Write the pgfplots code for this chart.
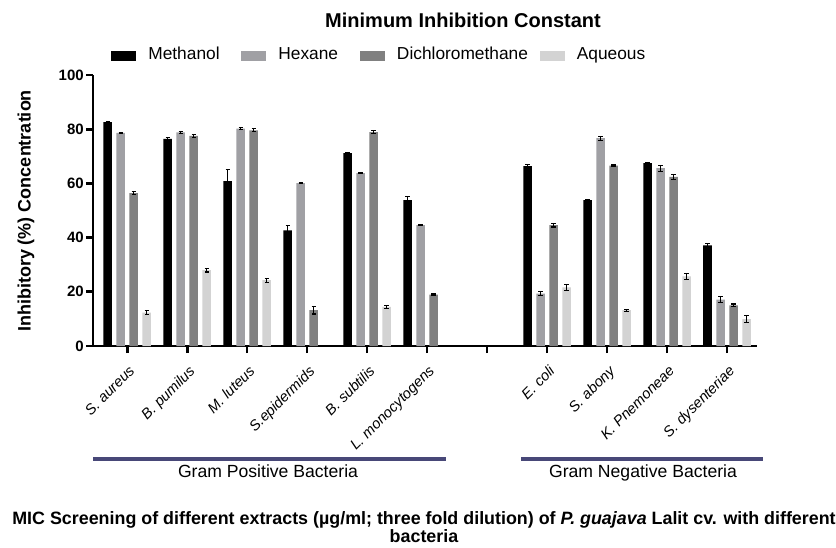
\documentclass[border=0pt]{standalone}
\usepackage{fontspec}
\setmainfont{Liberation Sans}
\usepackage{pgfplots}
\pgfplotsset{compat=1.18}
\usepackage{pgfplotstable}

\definecolor{meth}{RGB}{0,0,0}
\definecolor{hexc}{RGB}{160,160,164}
\definecolor{dcm}{RGB}{128,128,128}
\definecolor{aq}{RGB}{211,211,211}
\definecolor{grp}{RGB}{72,72,120}

\pgfplotstableread{
x y e
0 82.6 0.3
1 76.4 0.6
2 60.8 4.4
3 42.7 1.6
4 71.2 0.3
5 53.8 1.5
7 66.4 0.5
8 53.8 0.2
9 67.5 0.3
10 37.1 0.6
}\tmeth
\pgfplotstableread{
x y e
0 78.6 0.3
1 78.8 0.5
2 80.2 0.3
3 60.1 0.2
4 63.8 0.3
5 44.6 0.3
7 19.3 0.7
8 76.7 0.7
9 65.6 1.1
10 17.1 1.1
}\thex
\pgfplotstableread{
x y e
0 56.4 0.6
1 77.5 0.6
2 79.6 0.6
3 13.2 1.4
4 78.9 0.6
5 19.0 0.2
7 44.6 0.7
8 66.6 0.2
9 62.4 0.8
10 15.0 0.5
}\tdcm
\pgfplotstableread{
x y e
0 12.3 0.8
1 28.0 0.7
2 24.3 0.7
4 14.4 0.6
7 21.6 1.1
8 13.2 0.4
9 25.7 1.2
10 9.9 1.3
}\taq

\pgfplotsset{myerr/.style={
  /pgfplots/error bars/y dir=both, /pgfplots/error bars/y explicit,
  /pgfplots/error bars/error bar style={line width=0.8pt, black},
  /pgfplots/error bars/error mark options={rotate=90, mark size=1.6pt, line width=0.8pt, black}}}

\begin{document}
\begin{tikzpicture}[x=0.75pt,y=0.75pt]
\useasboundingbox (0,0) rectangle (836,547);
\begin{axis}[
  at={(69.75pt,150.75pt)}, anchor=south west,
  scale only axis, width=498pt, height=203.25pt,
  xmin=-0.57, xmax=10.5, ymin=0, ymax=100,
  axis x line*=bottom, axis y line*=left,
  axis line style={-, line width=2pt, black},
  ybar,
  ytick={0,20,...,100},
  xtick={0,...,10},
  xticklabels={S. aureus, B. pumilus, M. luteus, S.epidermids, B. subtilis, L. monocytogens, {}, E. coli, S. abony, K. Pnemoneae, S. dysenteriae},
  tick align=outside, major tick length=5.25pt,
  tick style={line width=2pt, black},
  x tick label style={rotate=45, anchor=north east, font=\itshape\fontsize{11}{11}\selectfont, inner sep=1.5pt, xshift=-4pt, yshift=-5pt},
  y tick label style={font=\bfseries\fontsize{11.25}{11.25}\selectfont, inner sep=1.5pt},
  /pgf/number format/assume math mode=true,
  legend style={at={(0.021,1.07)}, anchor=west, draw=none, fill=none,
    legend columns=4, font=\fontsize{13}{13}\selectfont,
    nodes={text height=0.72em, text depth=0.2em},
    /tikz/every odd column/.append style={column sep=7.1pt},
    /tikz/column 2/.style={column sep=14.2pt},
    /tikz/column 4/.style={column sep=14.3pt},
    /tikz/column 6/.style={column sep=6.8pt}},
  legend cell align=left,
  legend image code/.code={\fill[#1] (0pt,-3.75pt) rectangle (18.75pt,3.75pt);},
  every axis plot/.append style={draw=none, bar width=6.4pt},
]
\addplot[fill=meth, bar shift=-14.625pt, myerr] table[x=x,y=y,y error=e]{\tmeth};
\addplot[fill=hexc, bar shift=-4.875pt, myerr] table[x=x,y=y,y error=e]{\thex};
\addplot[fill=dcm, bar shift=4.875pt, myerr] table[x=x,y=y,y error=e]{\tdcm};
\addplot[fill=aq, bar shift=14.625pt, myerr] table[x=x,y=y,y error=e]{\taq};
\legend{Methanol, Hexane, Dichloromethane, Aqueous}
\end{axis}
\node[font=\bfseries\fontsize{15}{15}\selectfont] at (463,527) {Minimum Inhibition Constant};
\node[rotate=90, font=\bfseries\fontsize{13.5}{13.5}\selectfont] at (26,336) {Inhibitory (\%) Concentration};
\draw[grp, line width=3pt] (93,88) -- (446,88);
\draw[grp, line width=3pt] (521,88) -- (763,88);
\node[font=\fontsize{13.2}{13.2}\selectfont, anchor=base] at (268,70) {Gram Positive Bacteria};
\node[font=\fontsize{13.2}{13.2}\selectfont, anchor=base] at (643,70) {Gram Negative Bacteria};
\node[font=\bfseries\fontsize{13.4}{13.5}\selectfont, align=center] at (424,20) {MIC Screening of different extracts (µg/ml; three fold dilution) of \textit{P. guajava} Lalit cv. with different\\bacteria};
\end{tikzpicture}
\end{document}
